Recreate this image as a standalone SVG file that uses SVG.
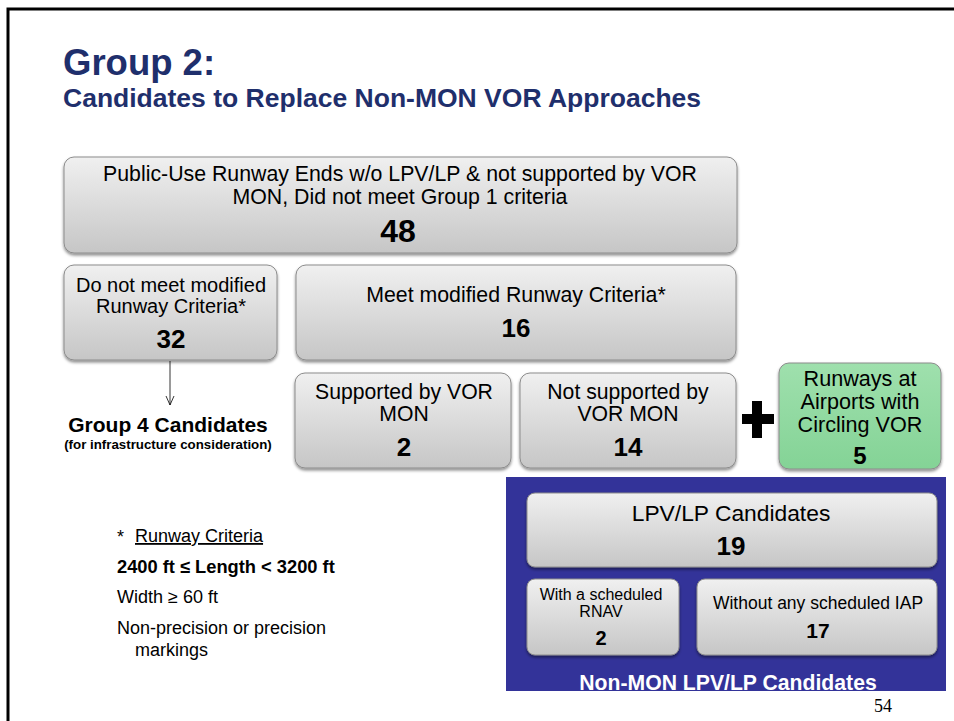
<svg xmlns="http://www.w3.org/2000/svg" width="954" height="721" viewBox="0 0 954 721">
<defs>
<linearGradient id="g" x1="0" y1="0" x2="0" y2="1">
<stop offset="0" stop-color="#f0f0f0"/><stop offset="1" stop-color="#c6c6c6"/>
</linearGradient>
<linearGradient id="gg" x1="0" y1="0" x2="0" y2="1">
<stop offset="0" stop-color="#9fe0ad"/><stop offset="1" stop-color="#84d396"/>
</linearGradient>
<filter id="sh" x="-5%" y="-5%" width="110%" height="120%">
<feDropShadow dx="0" dy="2" stdDeviation="1.5" flood-color="#000" flood-opacity="0.45"/>
</filter>
<marker id="ar" markerWidth="12" markerHeight="12" refX="10" refY="5" orient="auto" markerUnits="userSpaceOnUse">
<path d="M1,1 L10,5 L1,9" fill="none" stroke="#000" stroke-width="0.8"/>
</marker>
</defs>
<style>
.box{fill:url(#g);stroke:#8c8c8c;stroke-width:1;filter:url(#sh)}
.green{fill:url(#gg);stroke:#8c8c8c;stroke-width:1;filter:url(#sh)}
text{font-family:"Liberation Sans",Arial,sans-serif;fill:#000}
.t{text-anchor:middle}
.n{font-weight:bold;text-anchor:middle}
</style>
<rect width="954" height="721" fill="#fff"/>
<path d="M8,721 V9 H954" fill="none" stroke="#000" stroke-width="3"/>
<text x="63" y="75" font-size="36.5" font-weight="bold" style="fill:#1f2f6c">Group 2:</text>
<text x="63" y="107" font-size="26.5" font-weight="bold" style="fill:#1f2f6c">Candidates to Replace Non-MON VOR Approaches</text>

<g id="top">
<rect class="box" x="64" y="157" width="673" height="96" rx="10"/>
<text class="t" x="400" y="181" font-size="21.3">Public-Use Runway Ends w/o LPV/LP &amp; not supported by VOR</text>
<text class="t" x="400" y="204" font-size="21.3">MON, Did not meet Group 1 criteria</text>
<text class="n" x="398" y="242" font-size="32">48</text>
</g>
<g id="notmeet">
<rect class="box" x="64" y="265" width="213" height="95" rx="10"/>
<text class="t" x="171" y="292" font-size="20">Do not meet modified</text>
<text class="t" x="171" y="313" font-size="20">Runway Criteria*</text>
<text class="n" x="171" y="348" font-size="26">32</text>
</g>
<g id="meet">
<rect class="box" x="296" y="265" width="440" height="95" rx="10"/>
<text class="t" x="516" y="302" font-size="21.3">Meet modified Runway Criteria*</text>
<text class="n" x="516" y="337" font-size="26">16</text>
</g>
<g id="supported">
<rect class="box" x="295" y="373" width="216" height="95" rx="10"/>
<text class="t" x="404" y="399" font-size="21.2">Supported by VOR</text>
<text class="t" x="404" y="421" font-size="21.2">MON</text>
<text class="n" x="404" y="456" font-size="26">2</text>
</g>
<g id="notsupported">
<rect class="box" x="520" y="373" width="216" height="95" rx="10"/>
<text class="t" x="628" y="399" font-size="21.2">Not supported by</text>
<text class="t" x="628" y="421" font-size="21.2">VOR MON</text>
<text class="n" x="628" y="456" font-size="26">14</text>
</g>
<g id="plus">
<path d="M752,401 h10 v13 h12 v10 h-12 v14 h-10 v-14 h-10 v-10 h10 z" fill="#000"/>
</g>
<g id="circling">
<rect class="green" x="779" y="363" width="162" height="106" rx="10"/>
<text class="t" x="860" y="386" font-size="21.6">Runways at</text>
<text class="t" x="860" y="409" font-size="21.6">Airports with</text>
<text class="t" x="860" y="432" font-size="21.6">Circling VOR</text>
<text class="n" x="860" y="464" font-size="24">5</text>
</g>
<g id="group4">
<text x="168" y="432" font-size="21" class="n">Group 4 Candidates</text>
<text x="168" y="449" font-size="13.3" class="n">(for infrastructure consideration)</text>
</g>
<g id="nonmon">
<rect x="506" y="477" width="440" height="214" fill="#333399"/>
<text x="728" y="690" font-size="21.2" class="n" style="fill:#fff">Non-MON LPV/LP Candidates</text>
</g>
<g id="lpv">
<rect class="box" x="527" y="493" width="410" height="74" rx="8"/>
<text class="t" x="731" y="521" font-size="22.8">LPV/LP Candidates</text>
<text class="n" x="731" y="555" font-size="26">19</text>
</g>
<g id="rnav">
<rect class="box" x="527" y="579" width="152" height="76" rx="8"/>
<text class="t" x="601" y="600" font-size="16">With a scheduled</text>
<text class="t" x="601" y="617" font-size="16">RNAV</text>
<text class="n" x="601" y="645" font-size="20">2</text>
</g>
<g id="noiap">
<rect class="box" x="697" y="579" width="240" height="76" rx="8"/>
<text class="t" x="818" y="609" font-size="17.5">Without any scheduled IAP</text>
<text class="n" x="818" y="638" font-size="21">17</text>
</g>
<g id="connectors">
<line x1="170" y1="361" x2="170" y2="405" stroke="#000" stroke-width="0.8" marker-end="url(#ar)"/>
</g>
<g id="footnote">
<text x="117" y="543" font-size="18">*</text>
<text x="135" y="542" font-size="18" text-decoration="underline">Runway Criteria</text>
<text x="117" y="573" font-size="18.3" font-weight="bold">2400 ft ≤ Length &lt; 3200 ft</text>
<text x="117" y="603" font-size="18">Width ≥ 60 ft</text>
<text x="117" y="634" font-size="18">Non-precision or precision</text>
<text x="135" y="656" font-size="18">markings</text>
</g>
<text x="874" y="712" font-size="18" style="font-family:'Liberation Serif',serif">54</text>
</svg>
